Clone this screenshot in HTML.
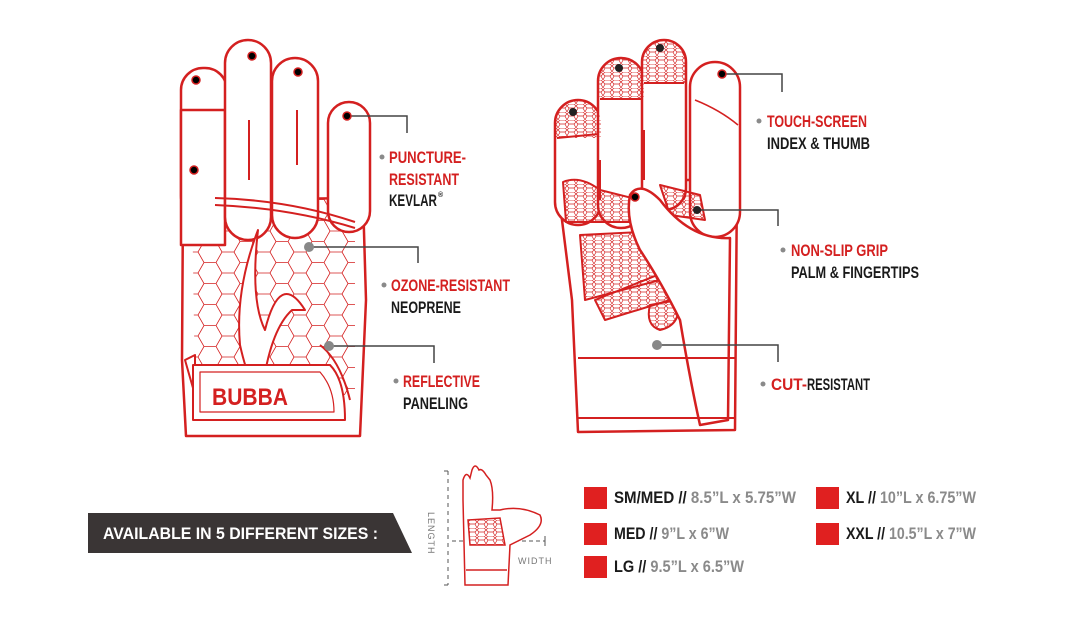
<!DOCTYPE html>
<html><head><meta charset="utf-8"><style>
html,body{margin:0;padding:0;background:#fff;}
svg{display:block}
.t{font-family:"Liberation Sans",sans-serif;font-weight:bold;font-size:17px}
.r{fill:#d42020}.k{fill:#1a1a1a}.g{fill:#8a8a8a}
</style></head><body>
<svg width="1080" height="628" viewBox="0 0 1080 628" xmlns="http://www.w3.org/2000/svg">
<defs>
<pattern id="hex" width="36" height="21" patternUnits="userSpaceOnUse">
<path d="M0,10.5 L6,0 L18,0 L24,10.5 L18,21 L6,21 Z M24,10.5 L36,10.5" fill="none" stroke="#d42020" stroke-width="0.8"/>
</pattern>
<pattern id="hex2" width="9" height="8" patternUnits="userSpaceOnUse">
<path d="M0,2 L2,0 L7,0 L9,2 L7,4 L2,4 Z M2,4 L0,8 M7,4 L9,8" fill="none" stroke="#d42020" stroke-width="0.7"/>
</pattern>
<clipPath id="c1"><rect x="555" y="100" width="46" height="125" rx="23"/></clipPath>
<clipPath id="c2"><rect x="598" y="58" width="46" height="170" rx="23"/></clipPath>
<clipPath id="c3"><rect x="642" y="40" width="44" height="170" rx="22"/></clipPath>
</defs>
<g fill="#fff" stroke="#d42020" stroke-width="2.5" stroke-linejoin="round">
<!-- LEFT GLOVE -->
<path d="M183,200 L363,198 L366,300 L360,436 L186,436 L182,360 Z"/>
<path d="M192,195 L355,200 L355,395 L195,395 Z" fill="url(#hex)" stroke="none"/>
<path d="M185,360 L195,355 L195,395 Z" stroke-width="2"/>
<rect x="181" y="68" width="46" height="150" rx="22"/>
<path d="M181,110 L225,110 L225,245 L181,245 Z"/>
<rect x="225" y="40" width="46" height="200" rx="23"/>
<rect x="272" y="58" width="46" height="180" rx="23"/>
<rect x="328" y="102" width="42" height="130" rx="21"/>
<path d="M215,198 Q290,200 355,222 M215,205 Q290,208 355,228" fill="none" stroke-width="2"/>
<path d="M258,230 Q250,300 265,330 Q280,270 305,310 L292,310 Q270,330 262,392 Q250,390 240,345 Q235,290 258,230 Z" stroke-width="2"/>
<path d="M320,345 Q340,360 350,400" fill="none" stroke-width="2"/>
<path d="M193,365 L330,365 Q345,380 345,420 L193,420 Z" stroke-width="2"/>
<path d="M200,372 L320,372 Q334,388 334,412 L200,412 Z" fill="none" stroke-width="1.2"/>
<line x1="249" y1="120" x2="249" y2="180" stroke-width="2"/>
<line x1="297" y1="110" x2="297" y2="165" stroke-width="2"/>
<!-- RIGHT GLOVE -->
<path d="M557,180 L737,180 L735,430 L578,432 L572,300 Z"/>
<rect x="555" y="100" width="46" height="125" rx="23"/>
<rect x="598" y="58" width="46" height="170" rx="23"/>
<rect x="642" y="40" width="44" height="170" rx="22"/>
<rect x="690" y="62" width="50" height="175" rx="25"/>
<rect x="555" y="98" width="46" height="40" fill="url(#hex2)" clip-path="url(#c1)" stroke="none"/>
<line x1="557" y1="138" x2="599" y2="134" stroke-width="2"/>
<rect x="598" y="56" width="46" height="43" fill="url(#hex2)" clip-path="url(#c2)" stroke="none"/>
<line x1="600" y1="99" x2="642" y2="99" stroke-width="2"/>
<rect x="642" y="38" width="44" height="45" fill="url(#hex2)" clip-path="url(#c3)" stroke="none"/>
<line x1="644" y1="83" x2="684" y2="83" stroke-width="2"/>
<path d="M563,182 Q580,175 600,190 L640,200 L640,222 L566,222 Z" fill="url(#hex2)" stroke-width="2"/>
<path d="M580,235 L640,232 L660,280 L585,300 Z" fill="url(#hex2)" stroke-width="2"/>
<path d="M595,300 L665,272 L670,300 L605,320 Z" fill="url(#hex2)" stroke-width="2"/>
<path d="M650,305 L678,300 Q682,325 660,330 Q645,325 650,305 Z" fill="url(#hex2)" stroke-width="2"/>
<path d="M660,185 L700,195 L705,220 L670,215 Z" fill="url(#hex2)" stroke-width="2"/>
<path d="M630,195 Q640,180 660,200 Q690,240 730,238 L728,420 L700,425 Q690,380 680,320 Q660,280 640,250 Q625,220 630,195 Z"/>
<path d="M578,358 L735,358 M578,418 L735,418" fill="none" stroke-width="2"/>
<line x1="600" y1="160" x2="600" y2="200" stroke-width="2"/>
<line x1="644" y1="130" x2="644" y2="180" stroke-width="2"/>
<path d="M695,100 Q720,110 738,125" fill="none" stroke-width="1.5"/>
</g>
<g class="t">
<text x="389" y="163" class="r" textLength="77" lengthAdjust="spacingAndGlyphs">PUNCTURE-</text>
<text x="389" y="185" class="r" textLength="70" lengthAdjust="spacingAndGlyphs">RESISTANT</text>
<text x="389" y="206" class="k" textLength="48" lengthAdjust="spacingAndGlyphs">KEVLAR</text><text x="438" y="197" class="k" font-size="7">®</text>
<text x="391" y="291" class="r" textLength="119" lengthAdjust="spacingAndGlyphs">OZONE-RESISTANT</text>
<text x="391" y="313" class="k" textLength="70" lengthAdjust="spacingAndGlyphs">NEOPRENE</text>
<text x="403" y="387" class="r" textLength="77" lengthAdjust="spacingAndGlyphs">REFLECTIVE</text>
<text x="403" y="409" class="k" textLength="65" lengthAdjust="spacingAndGlyphs">PANELING</text>
<text x="767" y="127" class="r" textLength="100" lengthAdjust="spacingAndGlyphs">TOUCH-SCREEN</text>
<text x="767" y="149" class="k" textLength="103" lengthAdjust="spacingAndGlyphs">INDEX &amp; THUMB</text>
<text x="791" y="256" class="r" textLength="97" lengthAdjust="spacingAndGlyphs">NON-SLIP GRIP</text>
<text x="791" y="278" class="k" textLength="128" lengthAdjust="spacingAndGlyphs">PALM &amp; FINGERTIPS</text>
<text x="771" y="390" class="r" textLength="36" lengthAdjust="spacingAndGlyphs">CUT-</text>
<text x="807" y="390" class="k" textLength="63" lengthAdjust="spacingAndGlyphs">RESISTANT</text>
<text x="212" y="405" class="r" font-size="24" textLength="76" lengthAdjust="spacingAndGlyphs">BUBBA</text>
</g>
<g fill="#8a8a8a">
<circle cx="382" cy="157" r="2.5"/><circle cx="384" cy="285" r="2.5"/><circle cx="396" cy="381" r="2.5"/>
<circle cx="759" cy="121" r="2.5"/><circle cx="783" cy="250" r="2.5"/><circle cx="763" cy="384" r="2.5"/>
</g>
<g fill="none" stroke="#444" stroke-width="1.5">
<path d="M350,116 L407,116 L407,133"/>
<path d="M312,247 L418,247 L418,263"/>
<path d="M332,346 L434,346 L434,363"/>
<path d="M724,74 L782,74 L782,92"/>
<path d="M699,210 L778,210 L778,226"/>
<path d="M660,345 L778,345 L778,362"/>
</g>
<g stroke="#d42020" stroke-width="1.5">
<circle cx="196" cy="80" r="4"/><circle cx="252" cy="56" r="4"/><circle cx="298" cy="72" r="4"/><circle cx="347" cy="116" r="4"/><circle cx="194" cy="170" r="4"/>
<circle cx="722" cy="74" r="4"/><circle cx="635" cy="197" r="4"/>
</g>
<g fill="#222"><circle cx="573" cy="112" r="4"/><circle cx="619" cy="68" r="4"/><circle cx="660" cy="48" r="4"/><circle cx="697" cy="210" r="4"/></g>
<g fill="#888"><circle cx="309" cy="247" r="5"/><circle cx="329" cy="346" r="5"/><circle cx="657" cy="345" r="5"/></g>
<!-- bottom -->
<path d="M88,513 L393,513 L412,553 L88,553 Z" fill="#3a3535"/>
<text x="103" y="539" class="t" fill="#fff" font-size="16" textLength="275" lengthAdjust="spacingAndGlyphs">AVAILABLE IN 5 DIFFERENT SIZES :</text>
<g stroke="#555" stroke-width="1" fill="none">
<path d="M444,471 L451,471 M448,471 L448,585 M444,585 L451,585" stroke-dasharray="4,4"/>
<path d="M452,541 L545,541" stroke-dasharray="4,3"/>
<line x1="545" y1="536" x2="545" y2="546"/>
</g>
<text transform="translate(428,512) rotate(90)" font-family="Liberation Sans,sans-serif" font-size="9" fill="#777" letter-spacing="1">LENGTH</text>
<text x="518" y="564" font-family="Liberation Sans,sans-serif" font-size="9" fill="#777" letter-spacing="1">WIDTH</text>
<g fill="#fff" stroke="#d42020" stroke-width="1.5">
<path d="M463,500 L463,480 Q466,470 470,478 L472,470 Q475,462 479,470 Q482,468 486,475 L490,480 Q494,490 492,510 L500,510 Q520,505 540,515 Q545,525 530,535 L510,545 L508,585 L465,585 Z"/>
<path d="M468,520 L500,518 L505,545 L470,545 Z" fill="url(#hex2)"/>
<line x1="466" y1="570" x2="507" y2="570"/>
</g>
<g fill="#e02020">
<rect x="584" y="487" width="23" height="22"/><rect x="584" y="523" width="23" height="22"/><rect x="584" y="556" width="23" height="22"/>
<rect x="816" y="487" width="23" height="22"/><rect x="816" y="523" width="23" height="22"/>
</g>
<g class="t" font-size="14">
<text x="614" y="503" textLength="182" lengthAdjust="spacingAndGlyphs"><tspan class="k">SM/MED //</tspan><tspan class="g"> 8.5”L x 5.75”W</tspan></text>
<text x="614" y="539" textLength="115" lengthAdjust="spacingAndGlyphs"><tspan class="k">MED //</tspan><tspan class="g"> 9”L x 6”W</tspan></text>
<text x="614" y="572" textLength="130" lengthAdjust="spacingAndGlyphs"><tspan class="k">LG //</tspan><tspan class="g"> 9.5”L x 6.5”W</tspan></text>
<text x="846" y="503" textLength="130" lengthAdjust="spacingAndGlyphs"><tspan class="k">XL //</tspan><tspan class="g"> 10”L x 6.75”W</tspan></text>
<text x="846" y="539" textLength="130" lengthAdjust="spacingAndGlyphs"><tspan class="k">XXL //</tspan><tspan class="g"> 10.5”L x 7”W</tspan></text>
</g>
</svg>
</body></html>
